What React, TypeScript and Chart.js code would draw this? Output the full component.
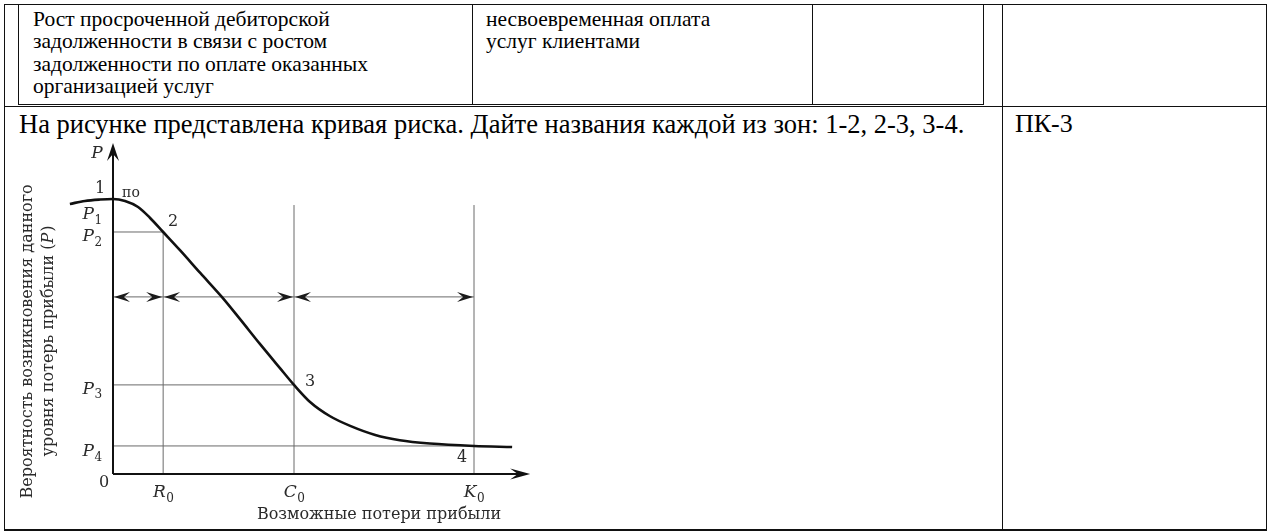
import React, { useEffect, useRef } from "react";
import { Chart, registerables } from "chart.js";

Chart.register(...registerables);

// ---- Risk curve data (x = possible profit loss, y = probability) ----
const curveLoss = [-0.86, -0.56, -0.26, 0, 0.24, 0.5, 0.74, 1.0, 1.34, 1.74, 2.17, 2.53, 2.93, 3.33, 3.61, 3.93, 4.33, 4.73, 5.23, 5.72, 6.32, 7.2, 7.96];
const curveProb = [0.982, 0.993, 0.998, 1.0, 0.993, 0.971, 0.931, 0.88, 0.813, 0.731, 0.644, 0.564, 0.473, 0.385, 0.324, 0.262, 0.21, 0.175, 0.142, 0.123, 0.111, 0.102, 0.098];

// probability levels P1..P4
const levelNames = ["P", "P", "P", "P"];
const levelSubs = ["1", "2", "3", "4"];
const levelValues = [1.0, 0.88, 0.324, 0.102];

// loss boundaries R0, C0, K0
const lossNames = ["R", "C", "K"];
const lossSubs = ["0", "0", "0"];
const lossValues = [1.0, 3.61, 7.2];

const pointLabels = ["1", "2", "3", "4"];
const zoneArrowLevel = 0.644;
const boundaryTop = 0.978;
const axisTipX = 8.32;
const axisTipY = 1.204;
const originLabel = "0";
const xTitle = "Возможные потери прибыли";
const yTitle1 = "Вероятность возникновения данного";
const yTitle2a = "уровня потерь прибыли (";
const yTitle2b = "P";
const yTitle2c = ")";
const strayLabel = "по";

const X_MIN = -2.154;
const X_MAX = 8.516;
const Y_MIN = -0.2;
const Y_MAX = 1.2436;

// ---- Table texts ----
const cell1Lines = [
  "Рост просроченной дебиторской",
  "задолженности в связи с ростом",
  "задолженности по оплате оказанных",
  "организацией услуг",
];
const cell2Lines = ["несвоевременная оплата", "услуг клиентами"];
const questionText = "На рисунке представлена кривая риска. Дайте названия каждой из зон: 1-2, 2-3, 3-4.";
const competenceText = "ПК-3";

const FIG_FONT = '"DejaVu Serif", serif';
const DOC_FONT = "'Liberation Serif', 'DejaVu Serif', serif";

function stealth(ctx: CanvasRenderingContext2D, tx: number, ty: number, dx: number, dy: number, len: number, half: number) {
  const nx = -dy;
  const ny = dx;
  ctx.beginPath();
  ctx.moveTo(tx, ty);
  ctx.lineTo(tx - dx * len + nx * half, ty - dy * len + ny * half);
  ctx.lineTo(tx - dx * len * 0.62, ty - dy * len * 0.62);
  ctx.lineTo(tx - dx * len - nx * half, ty - dy * len - ny * half);
  ctx.closePath();
  ctx.fill();
}

function subLabel(ctx: CanvasRenderingContext2D, main: string, sub: string, cx: number, cy: number, size: number) {
  ctx.textBaseline = "middle";
  ctx.textAlign = "left";
  ctx.font = `italic ${size}px ${FIG_FONT}`;
  const w = ctx.measureText(main).width;
  const subSize = Math.round(size * 0.68);
  ctx.font = `${subSize}px ${FIG_FONT}`;
  const sw = ctx.measureText(sub).width;
  const x0 = cx - (w + sw) / 2;
  ctx.font = `italic ${size}px ${FIG_FONT}`;
  ctx.fillText(main, x0, cy);
  ctx.font = `${subSize}px ${FIG_FONT}`;
  ctx.fillText(sub, x0 + w + 0.5, cy + size * 0.32);
}

const annotationPlugin = {
  id: "riskAnnotations",
  afterDatasetsDraw(chart: any) {
    const ctx: CanvasRenderingContext2D = chart.ctx;
    const xs = chart.scales.x;
    const ys = chart.scales.y;
    const ax = xs.getPixelForValue(0);
    const ay = ys.getPixelForValue(0);
    ctx.save();

    // axis arrowheads
    ctx.fillStyle = "#111";
    stealth(ctx, ax, ys.getPixelForValue(axisTipY), 0, -1, 18, 6);
    stealth(ctx, xs.getPixelForValue(axisTipX), ay, 1, 0, 20, 5.5);

    // zone arrows
    ctx.fillStyle = "#1a1a1a";
    const za = ys.getPixelForValue(zoneArrowLevel);
    const bounds = [0, ...lossValues];
    for (let i = 0; i < bounds.length - 1; i++) {
      const a = xs.getPixelForValue(bounds[i]);
      const b = xs.getPixelForValue(bounds[i + 1]);
      stealth(ctx, a + 1, za, -1, 0, 16, 5);
      stealth(ctx, b - 1, za, 1, 0, 16, 5);
    }

    ctx.fillStyle = "#2a2a2a";
    // P axis label
    ctx.font = `italic 17px ${FIG_FONT}`;
    ctx.textAlign = "center";
    ctx.textBaseline = "middle";
    ctx.fillText("P", ax - 16, ys.getPixelForValue(axisTipY) + 11);

    // P levels
    const pOffsets = [16, 5, 5, 6];
    levelValues.forEach((v, i) => {
      subLabel(ctx, levelNames[i], levelSubs[i], ax - 21, ys.getPixelForValue(v) + pOffsets[i], 17);
    });

    // loss ticks
    lossValues.forEach((v, i) => {
      subLabel(ctx, lossNames[i], lossSubs[i], xs.getPixelForValue(v), ay + 19, 17);
    });

    // numbered points
    ctx.font = `16px ${FIG_FONT}`;
    ctx.textAlign = "center";
    ctx.textBaseline = "middle";
    const px = [0, lossValues[0], lossValues[1], lossValues[2]];
    const py = [levelValues[0], levelValues[1], levelValues[2], levelValues[3]];
    const dxs = [-13, 10, 16, -12];
    const dys = [-10, -10, -3, 12];
    pointLabels.forEach((t, i) => {
      ctx.fillText(t, xs.getPixelForValue(px[i]) + dxs[i], ys.getPixelForValue(py[i]) + dys[i]);
    });
    ctx.fillText(originLabel, ax - 9, ay + 9);

    ctx.font = `14px ${FIG_FONT}`;
    ctx.fillText(strayLabel, ax + 18, ys.getPixelForValue(levelValues[0]) - 6);

    // x title
    ctx.font = `16px ${FIG_FONT}`;
    ctx.textAlign = "center";
    ctx.fillText(xTitle, (xs.getPixelForValue(lossValues[1]) + xs.getPixelForValue(lossValues[2])) / 2 - 5, ay + 41);

    // y title (rotated)
    const midY = (ys.getPixelForValue(axisTipY) + ay) / 2 + 33;
    ctx.save();
    ctx.translate(ax - 85, midY);
    ctx.rotate(-Math.PI / 2);
    ctx.font = `16px ${FIG_FONT}`;
    ctx.textAlign = "center";
    ctx.fillText(yTitle1, 0, 0);
    ctx.restore();

    ctx.save();
    ctx.translate(ax - 64, midY);
    ctx.rotate(-Math.PI / 2);
    ctx.textAlign = "left";
    ctx.font = `16px ${FIG_FONT}`;
    const wa = ctx.measureText(yTitle2a).width;
    const wc = ctx.measureText(yTitle2c).width;
    ctx.font = `italic 16px ${FIG_FONT}`;
    const wb = ctx.measureText(yTitle2b).width;
    const x0 = -(wa + wb + wc) / 2;
    ctx.font = `16px ${FIG_FONT}`;
    ctx.fillText(yTitle2a, x0, 0);
    ctx.font = `italic 16px ${FIG_FONT}`;
    ctx.fillText(yTitle2b, x0 + wa, 0);
    ctx.font = `16px ${FIG_FONT}`;
    ctx.fillText(yTitle2c, x0 + wa + wb + 1, 0);
    ctx.restore();

    ctx.restore();
  },
};

function seg(x1: number, y1: number, x2: number, y2: number, color: string, width: number) {
  return {
    data: [
      { x: x1, y: y1 },
      { x: x2, y: y2 },
    ],
    borderColor: color,
    borderWidth: width,
    pointRadius: 0,
    tension: 0,
    fill: false,
  };
}

function RiskCurve() {
  const ref = useRef<HTMLCanvasElement | null>(null);
  useEffect(() => {
    if (!ref.current) return;
    const grey = "#6a6a6a";
    const datasets: any[] = [
      {
        data: curveLoss.map((x, i) => ({ x, y: curveProb[i] })),
        borderColor: "#111",
        borderWidth: 2.6,
        pointRadius: 0,
        cubicInterpolationMode: "monotone",
        fill: false,
      },
      seg(0, 0, axisTipX - 0.2, 0, "#111", 2),
      seg(0, 0, 0, axisTipY - 0.03, "#111", 2),
      seg(0, levelValues[1], lossValues[0], levelValues[1], grey, 1),
      seg(0, levelValues[2], lossValues[1], levelValues[2], grey, 1),
      seg(0, levelValues[3], lossValues[2], levelValues[3], grey, 1),
      seg(lossValues[0], 0, lossValues[0], levelValues[1], grey, 1),
      seg(lossValues[1], 0, lossValues[1], boundaryTop, grey, 1),
      seg(lossValues[2], 0, lossValues[2], boundaryTop, grey, 1),
      seg(0, zoneArrowLevel, lossValues[2], zoneArrowLevel, grey, 1),
    ];
    const chart = new Chart(ref.current, {
      type: "line",
      data: { datasets },
      options: {
        animation: false,
        responsive: false,
        maintainAspectRatio: false,
        events: [],
        layout: { padding: 0 },
        plugins: {
          legend: { display: false },
          tooltip: { enabled: false },
          title: { display: false },
        },
        scales: {
          x: { type: "linear", min: X_MIN, max: X_MAX, display: false },
          y: { type: "linear", min: Y_MIN, max: Y_MAX, display: false },
        },
      },
      plugins: [annotationPlugin],
    } as any);
    return () => chart.destroy();
  }, []);
  return (
    <canvas
      ref={ref}
      width={535}
      height={397}
      style={{ position: "absolute", left: 5, top: 132, width: 535, height: 397 }}
    />
  );
}

const line = (style: React.CSSProperties): React.CSSProperties => ({
  position: "absolute",
  background: "#111",
  ...style,
});

function TextLine({ text, left, baseline, size }: { text: string; left: number; baseline: number; size: number }) {
  return (
    <div
      style={{
        position: "absolute",
        left,
        top: baseline - 0.8375 * size,
        fontFamily: DOC_FONT,
        fontSize: size,
        lineHeight: `${size}px`,
        whiteSpace: "nowrap",
        color: "#000",
      }}
    >
      {text}
    </div>
  );
}

export default function App() {
  return (
    <div style={{ position: "absolute", left: 0, top: 0, width: 1269, height: 531, background: "#fff", overflow: "hidden", fontFamily: DOC_FONT }}>
      {/* outer table */}
      <div style={line({ left: 4, top: 4, width: 1263, height: 1 })} />
      <div style={line({ left: 4, top: 529, width: 1263, height: 2 })} />
      <div style={line({ left: 4, top: 4, width: 1, height: 527 })} />
      <div style={line({ left: 1266, top: 4, width: 1, height: 527 })} />
      <div style={line({ left: 1002, top: 4, width: 1, height: 527 })} />
      <div style={line({ left: 4, top: 106, width: 1263, height: 1 })} />
      {/* inner table */}
      <div style={line({ left: 18, top: 4, width: 966, height: 1 })} />
      <div style={line({ left: 18, top: 104, width: 966, height: 1 })} />
      <div style={line({ left: 18, top: 4, width: 1, height: 101 })} />
      <div style={line({ left: 472, top: 4, width: 1, height: 101 })} />
      <div style={line({ left: 812, top: 4, width: 1, height: 101 })} />
      <div style={line({ left: 983, top: 4, width: 1, height: 101 })} />

      {cell1Lines.map((t, i) => (
        <TextLine key={"c1" + i} text={t} left={33} baseline={26.7 + i * 22.5} size={21.5} />
      ))}
      {cell2Lines.map((t, i) => (
        <TextLine key={"c2" + i} text={t} left={486} baseline={26.7 + i * 22.5} size={21.5} />
      ))}
      <TextLine text={questionText} left={19} baseline={133} size={26.5} />
      <TextLine text={competenceText} left={1015} baseline={133} size={26} />

      <RiskCurve />
    </div>
  );
}
